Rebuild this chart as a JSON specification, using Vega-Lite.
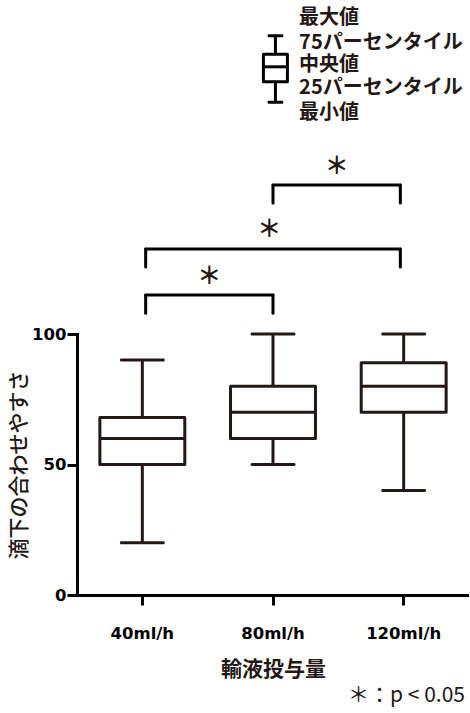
{
  "$schema": "https://vega.github.io/schema/vega-lite/v6.json",
  "background": "white",
  "padding": {"left": 8, "top": 0, "right": 0, "bottom": 5},
  "config": {
    "view": {"stroke": null},
    "font": "Noto Sans CJK JP",
    "axis": {
      "domainColor": "black", "domainWidth": 3, "domainCap": "square",
      "tickColor": "black", "tickWidth": 3, "tickSize": 10,
      "labelFont": "DejaVu Sans", "labelFontWeight": "bold", "labelFontSize": 16.5, "labelColor": "black",
      "titleFont": "Noto Sans CJK JP", "titleFontSize": 21, "titleColor": "#231815",
      "grid": false
    }
  },
  "title": {
    "text": "＊：p < 0.05", "orient": "bottom", "anchor": "end", "dx": -4,
    "font": "Noto Sans CJK JP", "fontSize": 21, "fontWeight": "normal", "color": "#231815", "offset": 5
  },
  "bounds": "flush",
  "spacing": 0,
  "resolve": {"scale": {"x": "independent", "y": "independent"}},
  "vconcat": [
    {
      "width": 392,
      "height": 334,
      "layer": [
        {
          "data": {"values": [
            {"from": 0, "to": 1, "top": 114.9, "leg": 108.0},
            {"from": 0, "to": 2, "top": 132.6, "leg": 125.7},
            {"from": 1, "to": 2, "top": 157.1, "leg": 150.2}
          ]},
          "layer": [
            {
              "mark": {"type": "rule", "strokeWidth": 3, "color": "black", "strokeCap": "round"},
              "encoding": {
                "x": {"field": "from", "type": "quantitative", "scale": {"domain": [-0.5, 2.5], "nice": false, "zero": false}, "axis": null},
                "x2": {"field": "to"},
                "y": {"field": "top", "type": "quantitative", "scale": {"domain": [100, 228], "nice": false, "zero": false}, "axis": null}
              }
            },
            {
              "mark": {"type": "rule", "strokeWidth": 3, "color": "black", "strokeCap": "round"},
              "encoding": {
                "x": {"field": "from", "type": "quantitative"},
                "y": {"field": "leg", "type": "quantitative"},
                "y2": {"field": "top"}
              }
            },
            {
              "mark": {"type": "rule", "strokeWidth": 3, "color": "black", "strokeCap": "round"},
              "encoding": {
                "x": {"field": "to", "type": "quantitative"},
                "y": {"field": "leg", "type": "quantitative"},
                "y2": {"field": "top"}
              }
            }
          ]
        },
        {
          "data": {"values": [
            {"x": 0.5, "y": 121.8, "mark": "＊"},
            {"x": 0.97, "y": 139.8, "mark": "＊"},
            {"x": 1.5, "y": 163.9, "mark": "＊"}
          ]},
          "mark": {"type": "text", "fontSize": 24, "fontWeight": "bold", "baseline": "middle", "align": "center", "color": "#231815", "font": "Noto Sans CJK JP"},
          "encoding": {
            "x": {"field": "x", "type": "quantitative"},
            "y": {"field": "y", "type": "quantitative"},
            "text": {"field": "mark"}
          }
        },
        {
          "data": {"values": [
            {"x": 1.019, "min": 188.8, "q1": 196.7, "median": 202.4, "q3": 207.2, "max": 214.3}
          ]},
          "layer": [
            {
              "mark": {"type": "rule", "strokeWidth": 3, "color": "black"},
              "encoding": {
                "x": {"field": "x", "type": "quantitative"},
                "y": {"field": "min", "type": "quantitative"},
                "y2": {"field": "max"}
              }
            },
            {
              "mark": {"type": "bar", "size": 24, "fill": "white", "stroke": "black", "strokeWidth": 3, "strokeJoin": "round"},
              "encoding": {
                "x": {"field": "x", "type": "quantitative"},
                "y": {"field": "q1", "type": "quantitative"},
                "y2": {"field": "q3"}
              }
            },
            {
              "mark": {"type": "tick", "orient": "horizontal", "size": 24, "thickness": 3, "color": "black", "opacity": 1},
              "encoding": {
                "x": {"field": "x", "type": "quantitative"},
                "y": {"field": "median", "type": "quantitative"}
              }
            },
            {
              "mark": {"type": "tick", "orient": "horizontal", "size": 16, "thickness": 3, "color": "black", "cornerRadius": 1.5, "opacity": 1},
              "encoding": {
                "x": {"field": "x", "type": "quantitative"},
                "y": {"field": "min", "type": "quantitative"}
              }
            },
            {
              "mark": {"type": "tick", "orient": "horizontal", "size": 16, "thickness": 3, "color": "black", "cornerRadius": 1.5, "opacity": 1},
              "encoding": {
                "x": {"field": "x", "type": "quantitative"},
                "y": {"field": "max", "type": "quantitative"}
              }
            }
          ]
        },
        {
          "data": {"values": [
            {"x": 1.205, "y": 221.1, "label": "最大値"},
            {"x": 1.205, "y": 211.5, "label": "75パーセンタイル"},
            {"x": 1.205, "y": 203.1, "label": "中央値"},
            {"x": 1.205, "y": 194.3, "label": "25パーセンタイル"},
            {"x": 1.205, "y": 184.7, "label": "最小値"}
          ]},
          "mark": {"type": "text", "fontSize": 20, "fontWeight": "bold", "align": "left", "baseline": "middle", "color": "#231815", "font": "Noto Sans CJK JP"},
          "encoding": {
            "x": {"field": "x", "type": "quantitative"},
            "y": {"field": "y", "type": "quantitative"},
            "text": {"field": "label"}
          }
        }
      ]
    },
    {
      "width": 392,
      "height": 261,
      "data": {"values": [
        {"group": "40ml/h", "min": 20, "q1": 50, "median": 60, "q3": 68, "max": 90},
        {"group": "80ml/h", "min": 50, "q1": 60, "median": 70, "q3": 80, "max": 100},
        {"group": "120ml/h", "min": 40, "q1": 70, "median": 80, "q3": 89, "max": 100}
      ]},
      "encoding": {
        "x": {
          "field": "group", "type": "nominal", "sort": null,
          "scale": {"paddingInner": 0, "paddingOuter": 0},
          "title": "輸液投与量",
          "axis": {"labelAngle": 0, "labelPadding": 20, "titlePadding": 17, "titleFontWeight": "bold"}
        }
      },
      "layer": [
        {
          "mark": {"type": "rule", "strokeWidth": 3, "color": "#231815"},
          "encoding": {
            "y": {
              "field": "min", "type": "quantitative",
              "scale": {"domain": [0, 100], "nice": false},
              "title": "滴下の合わせやすさ",
              "axis": {"values": [0, 50, 100], "labelPadding": 1, "titlePadding": 2, "titleFontWeight": 500}
            },
            "y2": {"field": "max"}
          }
        },
        {
          "mark": {"type": "bar", "width": {"band": 0.65}, "fill": "white", "stroke": "#231815", "strokeWidth": 3, "strokeJoin": "round"},
          "encoding": {
            "y": {"field": "q1", "type": "quantitative"},
            "y2": {"field": "q3"}
          }
        },
        {
          "mark": {"type": "tick", "size": 85, "thickness": 3, "color": "#231815", "opacity": 1},
          "encoding": {"y": {"field": "median", "type": "quantitative"}}
        },
        {
          "mark": {"type": "tick", "size": 45, "thickness": 3, "color": "#231815", "cornerRadius": 1.5, "opacity": 1},
          "encoding": {"y": {"field": "min", "type": "quantitative"}}
        },
        {
          "mark": {"type": "tick", "size": 45, "thickness": 3, "color": "#231815", "cornerRadius": 1.5, "opacity": 1},
          "encoding": {"y": {"field": "max", "type": "quantitative"}}
        }
      ]
    }
  ]
}
